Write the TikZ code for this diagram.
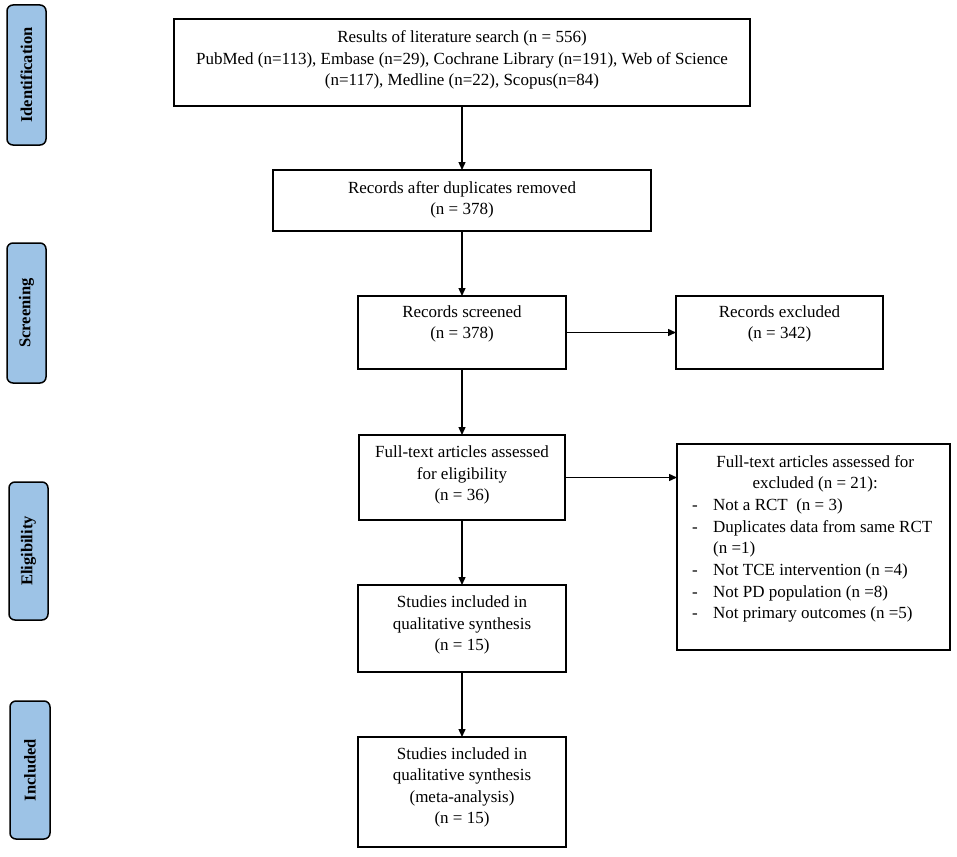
\documentclass[tikz,border=0pt]{standalone}
\usepackage{fontspec}
\setmainfont{Liberation Serif}
\usetikzlibrary{arrows.meta}
\definecolor{phaseblue}{RGB}{157,195,230}
\begin{document}
\begin{tikzpicture}[x=1pt,y=-1pt,
  box/.style={draw, line width=1.4pt, inner sep=0pt, outer sep=0pt, rectangle},
  txt/.style={align=center, inner sep=0pt, font=\fontsize{17}{21.5}\selectfont},
  phase/.style={draw, line width=1.5pt, fill=phaseblue, rounded corners=6pt, inner sep=0pt, outer sep=0pt},
  phasetxt/.style={rotate=90, inner sep=0pt, font=\fontsize{16.5}{18}\selectfont\bfseries},
  arr/.style={line width=1.4pt, -{Triangle[length=8pt,width=7pt]}}]
\useasboundingbox (0,0) rectangle (957,856);
% phase labels
\node[phase, minimum width=39pt, minimum height=140pt] (p1) at (26.5,75) {};
\node[phasetxt] (pt1) at (p1.center) {Identification};
\node[phase, minimum width=39pt, minimum height=140pt] (p2) at (26.5,313) {};
\node[phasetxt] (pt2) at (p2.center) {Screening};
\node[phase, minimum width=39pt, minimum height=138pt] (p3) at (28.5,551) {};
\node[phasetxt] (pt3) at (p3.center) {Eligibility};
\node[phase, minimum width=40pt, minimum height=138pt] (p4) at (30,770) {};
\node[phasetxt] (pt4) at (p4.center) {Included};
% main boxes
\node[box, minimum width=576pt, minimum height=87pt] (b1) at (462,62.5) {};
\node[txt] (t1) at (462,60) {Results of literature search (n = 556)\\PubMed (n=113), Embase (n=29), Cochrane Library (n=191), Web of Science\\(n=117), Medline (n=22), Scopus(n=84)};
\node[box, minimum width=378pt, minimum height=61pt] (b2) at (462,200.5) {};
\node[txt] (t2) at (462,200) {Records after duplicates removed\\(n = 378)};
\node[box, minimum width=208pt, minimum height=73pt] (b3) at (462,332.5) {};
\node[txt] (t3) at (462,324) {Records screened\\(n = 378)};
\node[box, minimum width=207pt, minimum height=73pt] (b4) at (779.5,332.5) {};
\node[txt] (t4) at (779.5,324) {Records excluded\\(n = 342)};
\node[box, minimum width=206pt, minimum height=85pt] (b5) at (462,477.5) {};
\node[txt] (t5) at (462,475) {Full-text articles assessed\\for eligibility\\(n = 36)};
\node[box, minimum width=273pt, minimum height=206pt] (b6) at (813.5,547) {};
\node[inner sep=0pt, anchor=base west, font=\fontsize{17}{21.7}\selectfont] (t6) at (692,467)
 {\begin{minipage}[t]{246pt}\centering Full-text articles assessed for\\excluded (n = 21):\par
 \raggedright
 \noindent\makebox[21pt][l]{-}Not a RCT~ (n = 3)\par
 \noindent\makebox[21pt][l]{-}Duplicates data from same RCT\par
 \noindent\hspace*{21pt}(n =1)\par
 \noindent\makebox[21pt][l]{-}Not TCE intervention (n =4)\par
 \noindent\makebox[21pt][l]{-}Not PD population (n =8)\par
 \noindent\makebox[21pt][l]{-}Not primary outcomes (n =5)\par
 \end{minipage}};
\node[box, minimum width=208pt, minimum height=87pt] (b7) at (462,628.5) {};
\node[txt] (t7) at (462,625) {Studies included in\\qualitative synthesis\\(n = 15)};
\node[box, minimum width=208pt, minimum height=110pt] (b8) at (462,792) {};
\node[txt] (t8) at (462,787.5) {Studies included in\\qualitative synthesis\\(meta-analysis)\\(n = 15)};
% connectors
\draw[arr] (b1.south) -- (b2.north);
\draw[arr] (b2.south) -- (b3.north);
\draw[arr] (b3.east) -- (b4.west);
\draw[arr] (b3.south) -- (b5.north);
\draw[arr] (b5.east) -- (b5.east -| b6.west);
\draw[arr] (b5.south) -- (b7.north);
\draw[arr] (b7.south) -- (b8.north);
\end{tikzpicture}
\end{document}
